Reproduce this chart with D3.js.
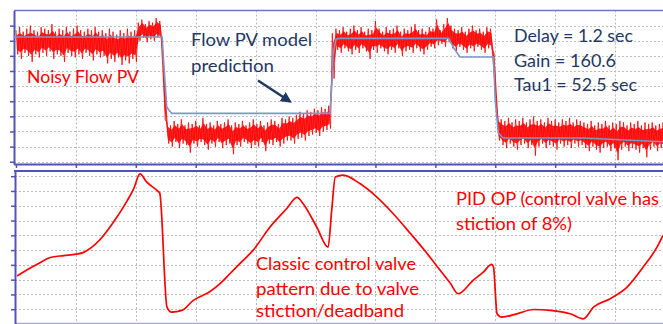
<!DOCTYPE html>
<html>
<head>
<meta charset="utf-8">
<script src="https://cdn.jsdelivr.net/npm/d3@7"></script>
<style>
  html, body { margin: 0; padding: 0; background: #fff; }
  svg { display: block; }
</style>
</head>
<body>
<svg id="chart" width="663" height="324"></svg>
<script>
// ---- data (time in seconds) ----
// noisy flow PV: one max/min pair every 6 s
const pvStep = 6;
const pvHigh = [
  87, 89, 86, 88, 90, 87, 86, 89, 88, 87, 91, 86, 88, 87, 89, 86, 88, 90, 87, 86,
  88, 87, 89, 86, 87, 85, 88, 86, 84, 87, 85, 88, 86, 87,
  92, 94, 91, 93, 92, 95, 93,
  70,
  26, 24, 27, 25, 28, 24, 26, 25, 27, 24, 29, 25, 26, 24, 27, 25, 26, 28, 24, 26,
  25, 27, 24, 26, 28, 25, 27, 24, 26, 28, 27, 25, 29, 28,
  30, 29, 31, 33, 32, 34, 33, 35, 34, 36, 35, 37,
  85,
  88, 87, 89, 86, 88, 90, 87, 89, 86, 88, 87, 93, 88, 86, 89, 87, 88, 90, 86, 88,
  87, 89, 91, 87, 88, 86, 89, 88, 94, 87, 91, 95,
  90, 88, 87, 89, 86, 88, 90, 87, 88, 86, 89, 88,
  72, 30,
  28, 27, 29, 26, 28, 27, 29, 26, 28, 30, 27, 28, 26, 29, 27, 28, 26, 28, 27, 29, 26, 28, 27,
  26, 25, 27, 24, 26, 25, 27, 24, 26, 25, 27, 26, 24, 26, 25, 27, 24, 26, 25, 26, 24, 25, 26
];
const pvLow = [
  71, 68, 72, 70, 66, 71, 69, 72, 70, 73, 68, 71, 70, 66, 72, 70, 69, 71, 68, 72,
  70, 67, 71, 69, 70, 65, 68, 66, 69, 64, 67, 65, 68, 66,
  80, 82, 79, 81, 80, 82, 80,
  28,
  12, 10, 13, 9, 12, 11, 6, 12, 10, 13, 11, 8, 12, 10, 13, 9, 11, 12, 5, 11,
  10, 13, 12, 9, 11, 10, 13, 7, 12, 11, 13, 10, 12, 14,
  14, 12, 15, 16, 14, 17, 18, 19, 17, 20, 21, 22,
  55,
  74, 72, 75, 73, 71, 74, 72, 75, 73, 68, 74, 72, 75, 73, 71, 74, 72, 75, 70, 73,
  74, 72, 75, 73, 71, 74, 76, 75, 77, 78, 76, 79,
  75, 73, 76, 74, 72, 75, 73, 76, 74, 72, 75, 74,
  40, 14,
  11, 9, 12, 10, 8, 11, 12, 9, 11, 4, 10, 12, 9, 11, 10, 8, 12, 10, 11, 9, 12, 10, 11,
  9, 7, 10, 8, 6, 9, 10, 7, 9, 1, 8, 10, 7, 9, 8, 6, 9, 3, 8, 10, 7, 9, 8
];

// first-order model prediction
const modelTime  = [-4, 244, 247, 251.6, 255, 260, 524, 527, 529.7, 534, 540, 722, 731, 741, 797, 800, 805, 813.5, 947, 1080];
const modelValue = [82.5, 82.5, 62.9, 36.4, 34.2, 32, 32, 49.6, 71.7, 81, 81.6, 81.6, 75, 69.3, 69.3, 40.8, 19, 15.7, 15.7, 13.2];

// PID output (%)
const opTime = [2, 20, 40, 57, 80, 100, 112, 125, 140, 162, 185, 196, 207, 218, 238, 240, 252, 260, 277, 296,
  324, 341, 357, 374, 396, 424, 452, 469, 479, 502, 521, 527, 533, 546, 574, 602, 629, 658, 686, 708,
  725, 738, 763, 780, 794, 797, 803, 811, 836, 864, 892, 925, 947, 964, 992, 1020, 1047, 1070, 1080];
const opValue = [32.5, 37, 41.5, 45, 46.3, 47.3, 48.3, 51.5, 57, 68.5, 83, 91, 101.5, 96.1, 89.4, 88.5, 11.4, 8, 9.2, 16,
  22, 27.5, 34, 41, 50, 65.6, 78.1, 85.6, 81.5, 65.6, 52, 77, 99.5, 100.7, 95, 86, 74.9, 61.4, 47.8, 36.3,
  27.5, 20.5, 29.5, 35.1, 40.3, 38.5, 6.9, 4.6, 6.9, 9.8, 9.2, 6.9, 3.5, 11.4, 17.1, 24.9, 38.5, 52, 60];

const timeTicks = [0, 100, 200, 300, 400, 500, 600, 700, 800, 900, 1000];
const pvTicks = [0, 10, 20, 30, 40, 50, 60, 70, 80, 90];
const opTicks = [10, 20, 30, 40, 50, 60, 70, 80, 90, 100];

// ---- layout ----
const W = 663, H = 324;
const top1 = 10.5, bot1 = 164, top2 = 171, bot2 = 324;
const axisColor = "#5252b8", gridColor = "#bcbcbc";
const red = "#ff0000", navy = "#1f3864";

const svg = d3.select("#chart");
const x = d3.scaleLinear().domain([-4, 1080]).range([13.6, W]);
const yPv = d3.scaleLinear().domain([-1.5, 100]).range([bot1, top1]);
const yOp = d3.scaleLinear().domain([0, 103.5]).range([bot2, top2]);

function grid(yScale, ticks, y0, y1, x0) {
  const g = svg.append("g").attr("stroke", gridColor).attr("stroke-width", 1)
    .attr("stroke-dasharray", "2,2");
  g.selectAll(".h").data(ticks).join("line")
    .attr("x1", x0).attr("x2", W)
    .attr("y1", d => Math.round(yScale(d)) + 0.5).attr("y2", d => Math.round(yScale(d)) + 0.5);
  g.selectAll(".v").data(timeTicks.slice(1)).join("line")
    .attr("x1", d => Math.round(x(d)) + 0.5).attr("x2", d => Math.round(x(d)) + 0.5)
    .attr("y1", y0).attr("y2", y1);
}
grid(yPv, pvTicks, top1, bot1, 14);
grid(yOp, opTicks, top2, bot2, 15);

// ---- frames / axes ----
function styleAxis(g) {
  g.select(".domain").attr("stroke", axisColor).attr("stroke-width", 2);
  g.selectAll(".tick line").attr("stroke", axisColor).attr("stroke-width", 1.5);
}
svg.append("line").attr("x1", 14).attr("x2", W).attr("y1", top1).attr("y2", top1)
  .attr("stroke", "#7373c4").attr("stroke-width", 1.3);
svg.append("line").attr("x1", 15).attr("x2", W).attr("y1", bot2 - 0.7).attr("y2", bot2 - 0.7)
  .attr("stroke", "#a8a8d8").attr("stroke-width", 1.3);

svg.append("g").attr("transform", `translate(14,0)`)
  .call(d3.axisLeft(yPv).tickValues(pvTicks).tickSize(4).tickSizeOuter(0).tickFormat(""))
  .call(styleAxis);
svg.append("g").attr("transform", `translate(0,${bot1})`)
  .call(d3.axisBottom(x).tickValues(timeTicks).tickSize(4).tickSizeOuter(0).tickFormat(""))
  .call(styleAxis);
svg.append("g").attr("transform", `translate(15,0)`)
  .call(d3.axisLeft(yOp).tickValues(opTicks).tickSize(4).tickSizeOuter(0).tickFormat(""))
  .call(styleAxis);
svg.append("line").attr("x1", 14).attr("x2", W).attr("y1", top2).attr("y2", top2)
  .attr("stroke", axisColor).attr("stroke-width", 2);

// ---- traces ----
svg.append("clipPath").attr("id", "clipTop").append("rect")
  .attr("x", 15).attr("y", top1).attr("width", W).attr("height", bot1 - top1 - 1);

const pvG = svg.append("g").attr("clip-path", "url(#clipTop)");
// dense core of the noise band (inner 60% of each max/min pair)
const inset = 0.2;
pvG.append("path")
  .attr("d", d3.area()
    .x((d, i) => x(i * pvStep + pvStep / 4))
    .y0((d, i) => yPv(pvLow[i] + (d - pvLow[i]) * inset))
    .y1((d, i) => yPv(d - (d - pvLow[i]) * inset))(pvHigh))
  .attr("fill", red).attr("fill-opacity", 0.85);
// individual noise strokes
const pvPoints = pvHigh.flatMap((h, i) => [[i * pvStep, h], [i * pvStep + pvStep / 2, pvLow[i]]]);
pvG.append("path")
  .attr("d", d3.line().x(d => x(d[0])).y(d => yPv(d[1]))(pvPoints))
  .attr("fill", "none").attr("stroke", red).attr("stroke-width", 1).attr("stroke-opacity", 0.8)
  .attr("stroke-linejoin", "bevel");

svg.append("path")
  .attr("d", d3.line().x((d, i) => x(modelTime[i])).y(d => yPv(d))(modelValue))
  .attr("fill", "none").attr("stroke", "#7d97c9").attr("stroke-width", 1.6);

svg.append("path")
  .attr("d", d3.line().curve(d3.curveMonotoneX).x((d, i) => x(opTime[i])).y(d => yOp(d))(opValue))
  .attr("fill", "none").attr("stroke", red).attr("stroke-width", 1.7).attr("stroke-linejoin", "round");

// ---- annotations ----
const notes = [
  { t: "Noisy Flow PV", x: 27, y: 83, w: 112, c: red },
  { t: "Flow PV model", x: 191, y: 46, w: 121, c: navy },
  { t: "prediction", x: 191, y: 71.5, w: 83, c: navy },
  { t: "Delay = 1.2 sec", x: 514, y: 42, w: 119, c: navy },
  { t: "Gain = 160.6", x: 514, y: 66.5, w: 102, c: navy },
  { t: "Tau1 = 52.5 sec", x: 514, y: 90.5, w: 123, c: navy },
  { t: "Classic control valve", x: 256, y: 270, w: 160, c: red },
  { t: "pattern due to valve", x: 256, y: 294.5, w: 163, c: red },
  { t: "stiction/deadband", x: 256, y: 317, w: 148, c: red },
  { t: "PID OP (control valve has", x: 456, y: 205, w: 203, c: red },
  { t: "stiction of 8%)", x: 456, y: 230, w: 116, c: red }
];
svg.append("g").selectAll("text").data(notes).join("text")
  .attr("x", d => d.x).attr("y", d => d.y)
  .attr("textLength", d => d.w).attr("lengthAdjust", "spacingAndGlyphs")
  .attr("fill", d => d.c)
  .style("font-family", "Lato, 'Open Sans', sans-serif").style("font-size", "17.5px")
  .text(d => d.t);

svg.append("defs").append("marker").attr("id", "head")
  .attr("viewBox", "0 0 10 10").attr("refX", 8).attr("refY", 5)
  .attr("markerUnits", "userSpaceOnUse").attr("markerWidth", 11).attr("markerHeight", 11)
  .attr("orient", "auto")
  .append("path").attr("d", "M0,0 L10,5 L0,10 z").attr("fill", navy);
svg.append("line").attr("x1", 258).attr("y1", 80.5).attr("x2", 290).attr("y2", 101.5)
  .attr("stroke", navy).attr("stroke-width", 2.5).attr("marker-end", "url(#head)");
</script>
</body>
</html>
